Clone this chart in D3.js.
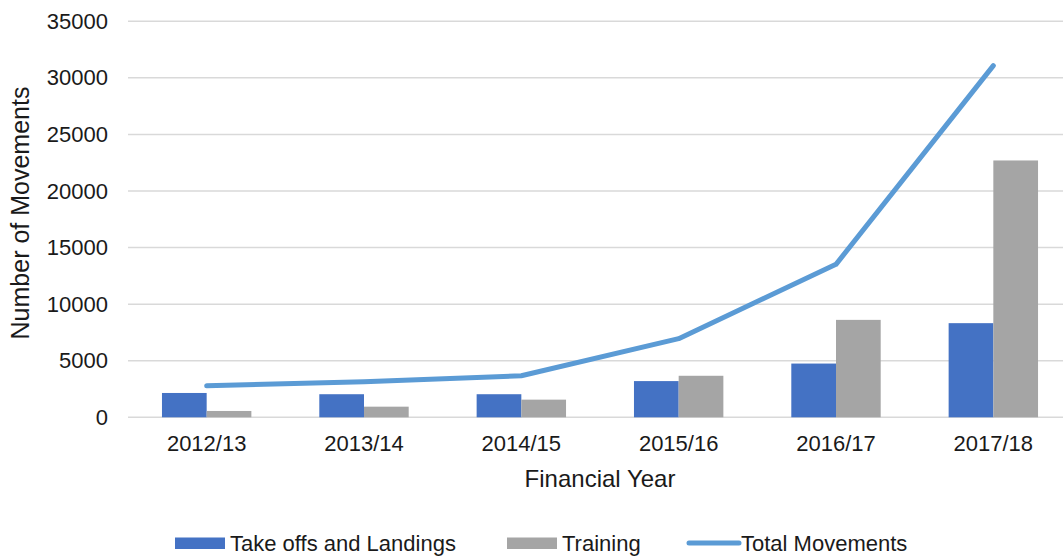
<!DOCTYPE html>
<html>
<head>
<meta charset="utf-8">
<script src="https://cdn.jsdelivr.net/npm/d3@7"></script>
<style>
  body { margin: 0; background: #fff; }
  svg { display: block; font-family: "Liberation Sans", Arial, sans-serif; }
</style>
</head>
<body>
<div id="chart"></div>
<script>
// data
const years = ["2012/13", "2013/14", "2014/15", "2015/16", "2016/17", "2017/18"];
const takeOffs = [2150, 2040, 2040, 3200, 4750, 8320];
const training = [560, 940, 1560, 3670, 8610, 22700];
const totals = [2780, 3150, 3670, 6950, 13520, 31080];
const yTicks = [0, 5000, 10000, 15000, 20000, 25000, 30000, 35000];
const keys = ["Take offs and Landings", "Training"];
const colors = ["#4472C4", "#A5A5A5"];
const lineColor = "#5B9BD5";

const W = 1063, H = 557;
const plot = {left: 128, right: 1072, top: 21.3, bottom: 417.3};

const svg = d3.select("#chart").append("svg")
    .attr("width", W)
    .attr("height", H);

const x0 = d3.scaleBand()
    .domain(years)
    .range([plot.left, plot.right])
    .padding(0);

const x1 = d3.scaleBand()
    .domain(keys)
    .range([0, x0.bandwidth()])
    .paddingInner(0)
    .paddingOuter(0.76);

const y = d3.scaleLinear()
    .domain([0, 35000])
    .range([plot.bottom, plot.top]);

// gridlines
svg.append("g")
    .selectAll("line")
    .data(yTicks)
    .enter().append("line")
    .attr("x1", plot.left)
    .attr("x2", plot.right)
    .attr("y1", d => y(d))
    .attr("y2", d => y(d))
    .style("stroke", "#d9d9d9")
    .style("stroke-width", 1.5);

// y axis labels
const yAxis = svg.append("g")
    .attr("transform", "translate(" + (plot.left - 20) + ",0)")
    .call(d3.axisLeft(y).tickValues(yTicks).tickSize(0).tickPadding(0).tickFormat(d3.format("d")));
yAxis.select(".domain").remove();
yAxis.selectAll("text")
    .style("font-size", "22px")
    .style("fill", "#1a1a1a")
    .style("font-family", "Liberation Sans, Arial, sans-serif");

// x axis labels
const xAxis = svg.append("g")
    .attr("transform", "translate(0," + plot.bottom + ")")
    .call(d3.axisBottom(x0).tickSize(0).tickPadding(18));
xAxis.select(".domain").remove();
xAxis.selectAll("text")
    .style("font-size", "22px")
    .style("fill", "#1a1a1a")
    .style("font-family", "Liberation Sans, Arial, sans-serif");

// bars
const series = [takeOffs, training];
const groups = svg.selectAll("g.serie")
    .data(series)
    .enter().append("g")
    .attr("class", "serie")
    .style("fill", (d, i) => colors[i]);

groups.selectAll("rect")
    .data((d, i) => d.map((v, j) => ({key: keys[i], year: years[j], value: v})))
    .enter().append("rect")
    .attr("x", d => x0(d.year) + x1(d.key))
    .attr("width", x1.bandwidth())
    .attr("y", d => y(d.value))
    .attr("height", d => y(0) - y(d.value));

// total line
const line = d3.line()
    .x((d, i) => x0(years[i]) + x0.bandwidth() / 2)
    .y(d => y(d));

svg.append("path")
    .datum(totals)
    .attr("d", line)
    .style("fill", "none")
    .style("stroke", lineColor)
    .style("stroke-width", 5)
    .style("stroke-linecap", "round")
    .style("stroke-linejoin", "round");

// axis titles
svg.append("text")
    .attr("x", 600)
    .attr("y", 487)
    .attr("text-anchor", "middle")
    .style("font-size", "24px")
    .style("fill", "#1a1a1a")
    .text("Financial Year");

svg.append("text")
    .attr("transform", "translate(29,213) rotate(-90)")
    .attr("text-anchor", "middle")
    .style("font-size", "25px")
    .style("fill", "#1a1a1a")
    .text("Number of Movements");

// legend
const legendItems = [
    {label: "Take offs and Landings", color: colors[0], type: "rect", x: 175},
    {label: "Training", color: colors[1], type: "rect", x: 507},
    {label: "Total Movements", color: lineColor, type: "line", x: 686}
];

const legend = svg.append("g");
legendItems.forEach(function(item) {
    if (item.type === "rect") {
        legend.append("rect")
            .attr("x", item.x)
            .attr("y", 537.5)
            .attr("width", 50)
            .attr("height", 11.5)
            .style("fill", item.color);
    } else {
        legend.append("line")
            .attr("x1", item.x + 3)
            .attr("x2", item.x + 53)
            .attr("y1", 543)
            .attr("y2", 543)
            .style("stroke", item.color)
            .style("stroke-width", 5)
            .style("stroke-linecap", "round");
    }
    legend.append("text")
        .attr("x", item.x + 55)
        .attr("y", 551)
        .style("font-size", "22px")
        .style("fill", "#1a1a1a")
        .text(item.label);
});
</script>
</body>
</html>
